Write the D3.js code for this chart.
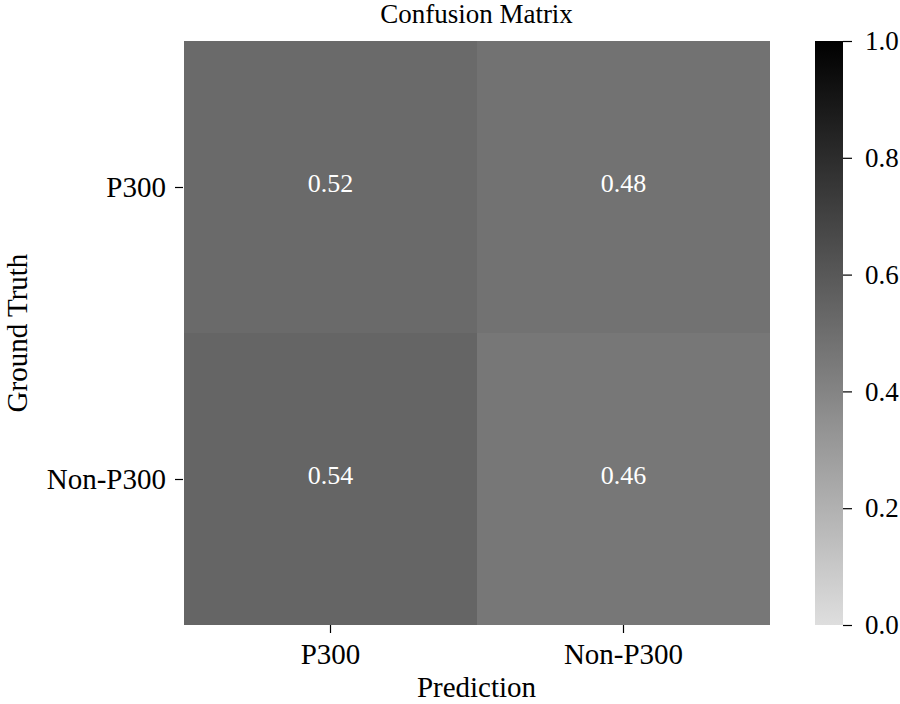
<!DOCTYPE html>
<html>
<head>
<meta charset="utf-8">
<script src="https://cdn.jsdelivr.net/npm/d3@7"></script>
<style>
    body { margin: 0; background: #fff; }
    text { font-family: "Liberation Serif", "Times New Roman", serif; fill: #000; }
</style>
</head>
<body>
<svg id="chart"></svg>
<script>
// Data
let rowLabels = ['P300', 'Non-P300'];
let colLabels = ['P300', 'Non-P300'];
let matrix = [
    [0.52, 0.48],
    [0.54, 0.46]
];
let cbarTicks = [0.0, 0.2, 0.4, 0.6, 0.8, 1.0];

let c = {
    svg: { width: 900, height: 704 },
    plot: { left: 183, top: 41, right: 770, bottom: 625 },
    cbar: { left: 815, width: 28 },
    font: { tick: 29, label: 29, title: 27, cell: 26, cbar: 27 }
};

let svg = d3.select('#chart')
    .attr('width', c.svg.width)
    .attr('height', c.svg.height);

// colour ramp, light grey to black
let color = d3.scaleLinear()
    .domain([0, 0.5, 1])
    .range(['#dedede', '#6e6e6e', '#000000'])
    .interpolate(d3.interpolateRgb);

let x = d3.scaleBand()
    .domain(colLabels)
    .range([c.plot.left, c.plot.right])
    .round(true);

let y = d3.scaleBand()
    .domain(rowLabels)
    .range([c.plot.top, c.plot.bottom])
    .round(true);

// cells
let cells = [];
matrix.forEach((row, i) => row.forEach((v, j) => cells.push({ r: rowLabels[i], c: colLabels[j], v: v })));

svg.append('g')
    .selectAll('rect')
    .data(cells)
    .join('rect')
    .attr('x', d => x(d.c))
    .attr('y', d => y(d.r))
    .attr('width', x.bandwidth())
    .attr('height', y.bandwidth())
    .attr('shape-rendering', 'crispEdges')
    .attr('fill', d => color(d.v));

svg.append('g')
    .selectAll('text')
    .data(cells)
    .join('text')
    .attr('x', d => x(d.c) + x.bandwidth() / 2)
    .attr('y', d => y(d.r) + y.bandwidth() / 2)
    .attr('text-anchor', 'middle')
    .attr('dy', '0.2em')
    .style('font-size', c.font.cell + 'px')
    .style('fill', '#ffffff')
    .text(d => d.v.toFixed(2));

// axes
let xAxis = svg.append('g')
    .attr('transform', translate(0, c.plot.bottom))
    .call(d3.axisBottom(x).tickSize(8).tickPadding(10));
let yAxis = svg.append('g')
    .attr('transform', translate(c.plot.left, 0))
    .call(d3.axisLeft(y).tickSize(8).tickPadding(9));

[xAxis, yAxis].forEach(a => {
    a.select('.domain').remove();
    a.selectAll('line').attr('stroke', '#000').attr('stroke-width', 1.2);
    a.selectAll('text')
        .style('font-size', c.font.tick + 'px')
        .style('font-family', '"Liberation Serif", serif');
});

// colorbar
let cb = d3.scaleLinear()
    .domain([0, 1])
    .range([c.plot.bottom, c.plot.top]);

let defs = svg.append('defs');
let grad = defs.append('linearGradient')
    .attr('id', 'cbar-grad')
    .attr('x1', 0).attr('y1', 1)
    .attr('x2', 0).attr('y2', 0);
grad.selectAll('stop')
    .data(d3.range(0, 1.0001, 0.05))
    .join('stop')
    .attr('offset', d => d)
    .attr('stop-color', d => color(d));

svg.append('rect')
    .attr('x', c.cbar.left)
    .attr('y', cb(1))
    .attr('width', c.cbar.width)
    .attr('height', cb(0) - cb(1))
    .attr('fill', 'url(#cbar-grad)');

let cAxis = svg.append('g')
    .attr('transform', translate(c.cbar.left + c.cbar.width, 0))
    .call(d3.axisRight(cb).tickValues(cbarTicks).tickFormat(d3.format('.1f')).tickSize(9).tickPadding(13));
cAxis.select('.domain').remove();
cAxis.selectAll('line').attr('stroke', '#000').attr('stroke-width', 1.2);
cAxis.selectAll('text')
    .style('font-size', c.font.cbar + 'px')
    .style('font-family', '"Liberation Serif", serif');

// labels
svg.append('text')
    .attr('x', (c.plot.left + c.plot.right) / 2)
    .attr('y', 23)
    .attr('text-anchor', 'middle')
    .style('font-size', c.font.title + 'px')
    .text('Confusion Matrix');

svg.append('text')
    .attr('x', (c.plot.left + c.plot.right) / 2)
    .attr('y', 697)
    .attr('text-anchor', 'middle')
    .style('font-size', c.font.label + 'px')
    .text('Prediction');

svg.append('text')
    .attr('transform', translate(27, (c.plot.top + c.plot.bottom) / 2) + ' rotate(-90)')
    .attr('text-anchor', 'middle')
    .style('font-size', c.font.label + 'px')
    .text('Ground Truth');

function translate(x, y) {
    return 'translate(' + x + ',' + y + ')';
}
</script>
</body>
</html>
